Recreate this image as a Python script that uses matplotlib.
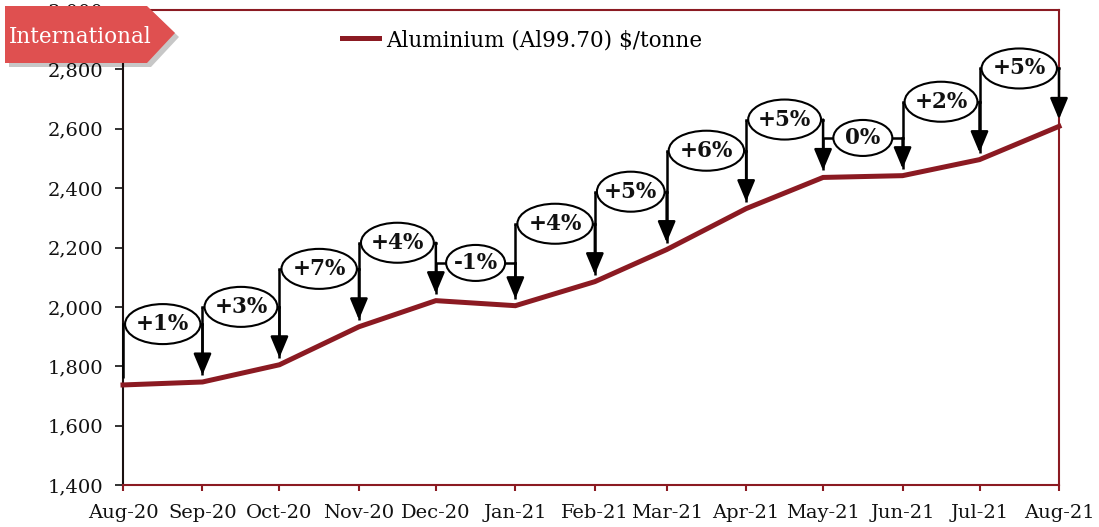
import matplotlib
matplotlib.use("Agg")
import matplotlib.pyplot as plt
import matplotlib.dates as mdates
from matplotlib.patches import Ellipse, Polygon, FancyArrowPatch
from matplotlib.ticker import FuncFormatter, MultipleLocator
import datetime as dt

# ---- data ----
months = ["2020-08-01", "2020-09-01", "2020-10-01", "2020-11-01", "2020-12-01",
          "2021-01-01", "2021-02-01", "2021-03-01", "2021-04-01", "2021-05-01",
          "2021-06-01", "2021-07-01", "2021-08-01"]
tick_labels = ["Aug-20", "Sep-20", "Oct-20", "Nov-20", "Dec-20", "Jan-21", "Feb-21",
               "Mar-21", "Apr-21", "May-21", "Jun-21", "Jul-21", "Aug-21"]
prices = [1737, 1747, 1805, 1933, 2021, 2004, 2085, 2193, 2331, 2436, 2442, 2496, 2608]
changes = ["+1%", "+3%", "+7%", "+4%", "-1%", "+4%", "+5%", "+6%", "+5%", "0%", "+2%", "+5%"]
series_name = "Aluminium (Al99.70) $/tonne"

LINE_C = "#8B1A22"
SERIF = ["DejaVu Serif"]

dates = [dt.datetime.strptime(m, "%Y-%m-%d") for m in months]
xn = mdates.date2num(dates)

fig = plt.figure(figsize=(10.99, 5.27), dpi=100)
ax = fig.add_axes([123 / 1099, 1 - 485 / 527, (1059 - 123) / 1099, 475 / 527])

ax.plot(dates, prices, color=LINE_C, lw=3.6, zorder=3, label=series_name,
        solid_joinstyle="miter", clip_on=False)

ax.set_xlim(xn[0], xn[-1])
ax.set_ylim(1400, 3000)
ax.yaxis.set_major_locator(MultipleLocator(200))
ax.yaxis.set_major_formatter(FuncFormatter(lambda v, p: f"{int(v):,}"))
ax.set_xticks(xn)
ax.set_xticklabels(tick_labels)

for lab in ax.get_xticklabels() + ax.get_yticklabels():
    lab.set_family(SERIF)
    lab.set_fontsize(14)
    lab.set_color("#111111")

ax.tick_params(axis="y", direction="out", length=6, width=1.2, color="#111111", pad=8)
ax.tick_params(axis="x", direction="out", length=4.5, width=1.5, color=LINE_C, pad=9)

for s in ["top", "right", "bottom"]:
    ax.spines[s].set_color(LINE_C)
    ax.spines[s].set_linewidth(1.5)
ax.spines["left"].set_color("#1a1010")
ax.spines["left"].set_linewidth(1.5)

# ---- change annotations ----
px_per_unit = (475 / 1600)
gap = 7 / px_per_unit
for i, lab in enumerate(changes):
    x0, x1 = xn[i], xn[i + 1]
    v0, v1 = prices[i], prices[i + 1]
    up = lab.startswith("+")
    h = max(v0, v1) + (195 if up else 127)
    # left line
    ax.plot([x0, x0], [h, v0 + gap], color="black", lw=1.8, zorder=4,
            solid_capstyle="butt", clip_on=False)
    # right arrow
    arr = FancyArrowPatch((x1, h), (x1, v1 + gap), arrowstyle="-|>,head_length=1.0,head_width=0.42",
                          mutation_scale=13, color="black", lw=1.8, shrinkA=0, shrinkB=0,
                          zorder=4, clip_on=False)
    ax.add_patch(arr)
    span = x1 - x0
    if up:
        ew = span - 1.6
        eh = 40 / px_per_unit
    else:
        ew = 23
        eh = 36 / px_per_unit
    xc = (x0 + x1) / 2
    ax.plot([x0, x1], [h, h], color="black", lw=1.8, zorder=4, clip_on=False)
    ax.add_patch(Ellipse((xc, h), ew, eh, facecolor="white", edgecolor="black",
                         lw=1.5, zorder=5, clip_on=False))
    ax.text(xc, h, lab, ha="center", va="center", fontsize=15.5, fontweight="bold",
            family=SERIF, color="#111111", zorder=6)

# ---- legend ----
leg = ax.legend(loc="center left", bbox_to_anchor=(327 / 1099, 1 - 40 / 527),
                bbox_transform=fig.transFigure, frameon=False,
                prop={"family": SERIF, "size": 15.5}, handlelength=1.7,
                handletextpad=0.35, borderpad=0.2)

# ---- badge ----
pts = [(5, 6), (147, 6), (175, 33), (147, 63), (5, 63)]
def tofig(p, dx=0, dy=0):
    return ((p[0] + dx) / 1099, 1 - (p[1] + dy) / 527)
shadow = Polygon([tofig(p, 4, 4) for p in pts], closed=True, transform=fig.transFigure,
                 facecolor="#000000", alpha=0.22, edgecolor="none", zorder=8)
badge = Polygon([tofig(p) for p in pts], closed=True, transform=fig.transFigure,
                facecolor="#DF5050", edgecolor="none", zorder=9)
fig.patches.extend([shadow, badge])
fig.text(9 / 1099, 1 - 37 / 527, "International", color="white", fontsize=15.5,
         family=SERIF, ha="left", va="center", zorder=10)

fig.savefig("out.png", dpi=100)
